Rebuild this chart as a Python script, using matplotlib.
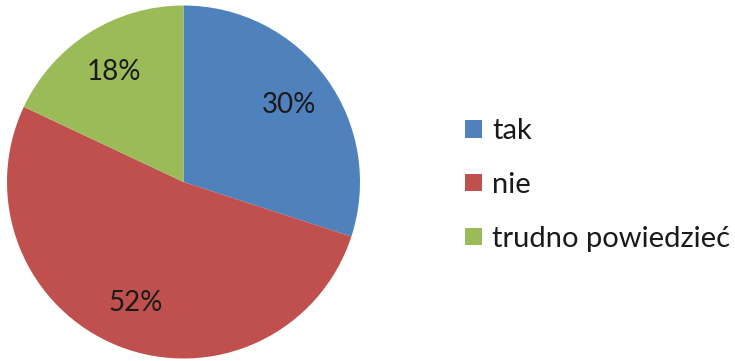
import matplotlib
matplotlib.use("Agg")
import matplotlib.pyplot as plt
from matplotlib.patches import Patch

labels = ["tak", "nie", "trudno powiedzieć"]
shares = [30, 52, 18]
colors = ["#4F81BD", "#C0504D", "#9BBB59"]

plt.rcParams["font.family"] = ["Lato", "DejaVu Sans"]

W, H = 735, 361
fig = plt.figure(figsize=(W / 100, H / 100), dpi=100)

# pie centred at (183, 182) px, radius ~176 px
cx, cy, r = 183.5, 182, 176.5
ax = fig.add_axes([(cx - r) / W, (H - cy - r) / H, 2 * r / W, 2 * r / H])
wedges, texts, autotexts = ax.pie(
    shares, colors=colors, startangle=90, counterclock=False,
    autopct="%d%%", pctdistance=0.74, radius=1,
    textprops={"fontsize": 20, "color": "#1a1a1a"},
    wedgeprops={"linewidth": 0},
)
ax.set_xlim(-1, 1)
ax.set_ylim(-1, 1)
ax.set_aspect("equal")
ax.axis("off")

handles = [Patch(facecolor=c, edgecolor="none") for c in colors]
fig.legend(handles, labels, loc="center left",
           bbox_to_anchor=(450 / W, (H - 185) / H),
           frameon=False, fontsize=21, labelspacing=0.95,
           handlelength=0.6, handleheight=0.55, handletextpad=0.35,
           borderpad=0, labelcolor="#1a1a1a")

fig.savefig("out.png", dpi=100)
